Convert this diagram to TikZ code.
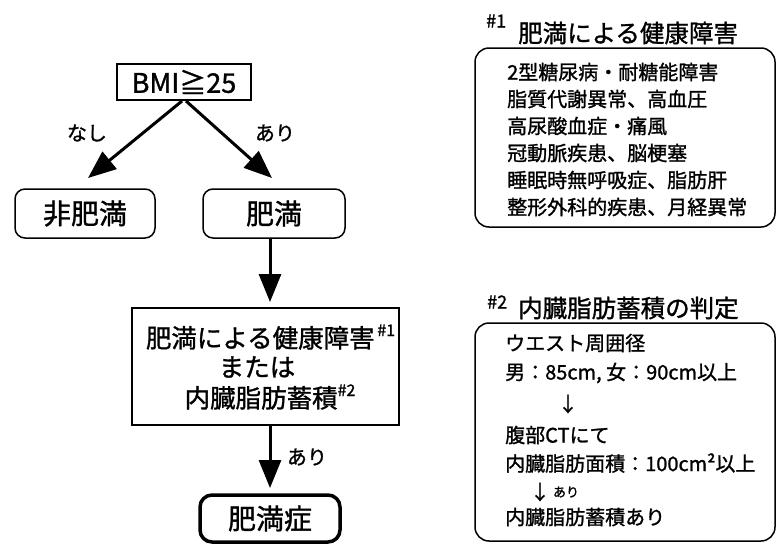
\documentclass[tikz,border=0pt]{standalone}
\usepackage{fontspec}
\setmainfont{Noto Sans CJK JP}[FakeBold=1.2]
\newfontfamily\boldj{Noto Sans CJK JP}[FakeBold=1.2]
\usetikzlibrary{arrows.meta}
\newcommand\myfs[1]{\fontsize{#1}{#1}\selectfont}
\begin{document}
\begin{tikzpicture}[x=1pt,y=-1pt,
  bigarrow/.style={line width=3pt,-{Triangle[length=28pt,width=22pt]}},
  sqbox/.style={draw,line width=2pt,inner sep=0pt},
  rbox/.style={draw,line width=1.5pt,rounded corners=10pt,inner sep=0pt},
  infobox/.style={draw,line width=1.5pt,rounded corners=14pt,inner sep=0pt,minimum width=300pt},
  txt/.style={inner sep=0pt,font=\boldj\myfs{20}},
  ltxt/.style={txt,anchor=west},
  lbl/.style={inner sep=0pt,font=\myfs{20}}]
\useasboundingbox (0,0) rectangle (776,544);

% left flow
\node[sqbox,minimum width=134pt,minimum height=36pt,font=\myfs{27}] (bmi) at (184,82) {BMI≧25};
\node[rbox,minimum width=140pt,minimum height=49pt,font=\myfs{28}] (hihiman) at (85,213.5) {非肥満};
\node[rbox,minimum width=142pt,minimum height=49pt,font=\myfs{28}] (himan) at (274,213.5) {肥満};
\coordinate (tipL) at (88,178);
\coordinate (tipR) at (272,178);
\draw[bigarrow] ([xshift=-2pt]bmi.south) -- (tipL);
\draw[bigarrow] ([xshift=2pt]bmi.south) -- (tipR);
\node[lbl] (nashi) at (87,133) {なし};
\node[lbl] (ari1) at (275,133) {あり};

\node[sqbox,minimum width=267pt,minimum height=117pt] (mid) at (265.5,366.5) {};
\node[inner sep=0pt,font=\myfs{25.5}] (m1) at (270.5,337) {肥満による健康障害\raisebox{0.45em}{\myfs{16}\,\#1}};
\node[inner sep=0pt,font=\myfs{25.5}] (m2) at (257,367) {または};
\node[inner sep=0pt,font=\myfs{25.5}] (m3) at (270,397) {内臓脂肪蓄積\raisebox{0.45em}{\myfs{16}\#2}};

\coordinate (a2) at (270,302);
\draw[bigarrow] (himan.south -| a2) -- (a2);
\coordinate (a3) at (270,488);
\draw[bigarrow] (mid.south -| a3) -- (a3);
\node[lbl] (ari2) at (307,457) {あり};

\node[draw,line width=3.5pt,rounded corners=12pt,inner sep=0pt,minimum width=140pt,minimum height=47pt,font=\myfs{28}] (shou) at (270,518.5) {肥満症};

% right box 1
\node[inner sep=0pt,anchor=west,font=\myfs{18}] (h1) at (486,21) {\#1};
\node[inner sep=0pt,anchor=west,font=\myfs{24.5}] (t1) at (518,33) {肥満による健康障害};
\node[infobox,minimum height=179pt] (box1) at (625,137.5) {};
\node[ltxt] (b11) at (507,72) {2型糖尿病・耐糖能障害};
\node[ltxt] (b12) at (507,99) {脂質代謝異常、高血圧};
\node[ltxt] (b13) at (507,126) {高尿酸血症・痛風};
\node[ltxt] (b14) at (507,153) {冠動脈疾患、脳梗塞};
\node[ltxt] (b15) at (507,180) {睡眠時無呼吸症、脂肪肝};
\node[ltxt] (b16) at (507,207) {整形外科的疾患、月経異常};

% right box 2
\node[inner sep=0pt,anchor=west,font=\myfs{18}] (h2) at (487,302) {\#2};
\node[inner sep=0pt,anchor=west,font=\myfs{24.5}] (t2) at (518,308) {内臓脂肪蓄積の判定};
\node[infobox,minimum height=218pt] (box2) at (625,432) {};
\node[ltxt] (b21) at (505,343) {ウエスト周囲径};
\node[ltxt] (b22) at (505,373) {男：85cm, 女：90cm以上};
\node[txt] (b23) at (568,404) {↓};
\node[ltxt] (b24) at (505,435) {腹部CTにて};
\node[ltxt] (b25) at (505,463) {内臓脂肪面積：100cm²以上};
\node[txt] (b26) at (540,492) {↓};
\node[inner sep=0pt,font=\boldj\myfs{13}] (b26a) at (566,492) {あり};
\node[ltxt] (b27) at (505,517) {内臓脂肪蓄積あり};
\end{tikzpicture}
\end{document}
